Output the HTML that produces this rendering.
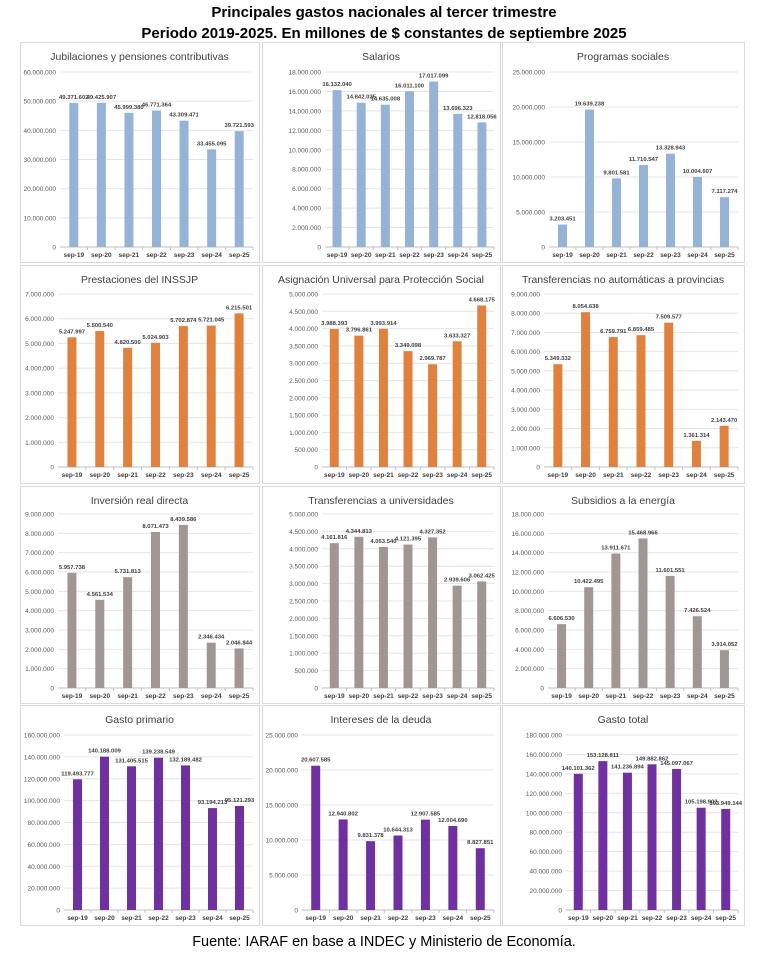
<!DOCTYPE html>
<html><head><meta charset="utf-8"><style>
body{margin:0;background:#fff;width:768px;height:953px;overflow:hidden;font-family:"Liberation Sans",sans-serif}
svg{position:absolute;left:0;top:0}
</style></head><body>
<svg id="s" width="768" height="953" xmlns="http://www.w3.org/2000/svg">
<text x="384" y="17" text-anchor="middle" font-size="15" font-weight="bold" font-family="Liberation Sans">Principales gastos nacionales al tercer trimestre</text>
<text x="384" y="38" text-anchor="middle" font-size="15" font-weight="bold" font-family="Liberation Sans">Periodo 2019-2025. En millones de $ constantes de septiembre 2025</text>
<text x="384" y="946" text-anchor="middle" font-size="14.5" font-family="Liberation Sans">Fuente: IARAF en base a INDEC y Ministerio de Economía.</text>
</svg>
<script>
const P=[
["Jubilaciones y pensiones contributivas",20,42,239,220,60,72,247,60e6,10e6,"#95b3d7",[49371602,49425907,45999380,46771364,43309471,33455095,39721593]],
["Salarios",262,42,238,220,325,72,247,18e6,2e6,"#95b3d7",[16132040,14842025,14635008,16011100,17017099,13696323,12818056]],
["Programas sociales",502,42,242,220,549,72,247,25e6,5e6,"#95b3d7",[3203451,19639238,9801581,11710547,13328943,10004607,7117274]],
["Prestaciones del INSSJP",20,265,239,218,58,294,467,7e6,1e6,"#e0813e",[5247997,5500540,4820500,5024903,5702874,5721045,6215501]],
["Asignación Universal para Protección Social",262,265,238,218,322,294,467,5e6,5e5,"#e0813e",[3988393,3796861,3993914,3349098,2969787,3633327,4668175]],
["Transferencias no automáticas a provincias",502,265,242,218,544,294,467,9e6,1e6,"#e0813e",[5349332,8054638,6759791,6859485,7509577,1361314,2143470]],
["Inversión real directa",20,486,239,217,58,514,688,9e6,1e6,"#a09694",[5957738,4561534,5731813,8071473,8439586,2346434,2046844]],
["Transferencias a universidades",262,486,238,217,322,514,688,5e6,5e5,"#a09694",[4161816,4344813,4053540,4121395,4327352,2939606,3062425]],
["Subsidios a la energía",502,486,242,217,548,514,688,18e6,2e6,"#a09694",[6606530,10422495,13911671,15468966,11601551,7426524,3914052]],
["Gasto primario",20,705,239,220,64,735,910,160e6,20e6,"#7030a0",[119493777,140188009,131405515,139238549,132189482,93194213,95121293]],
["Intereses de la deuda",262,705,238,220,302,735,910,25e6,5e6,"#7030a0",[20607585,12940802,9831378,10644313,12907585,12004690,8827851]],
["Gasto total",502,705,242,220,566,735,910,180e6,20e6,"#7030a0",[140101362,153128811,141236894,149882862,145097067,105198902,103949144]]];
const L=["sep-19","sep-20","sep-21","sep-22","sep-23","sep-24","sep-25"];
const f=n=>n.toLocaleString('de-DE');
let h='';
for(const [t,x,y,w,hh,pl,top,zero,mx,st,c,d] of P){
 const pr=x+w-6;
 h+=`<rect x="${x+.5}" y="${y+.5}" width="${w}" height="${hh}" fill="#fff" stroke="#d9d9d9"/>`;
 h+=`<text x="${x+w/2}" y="${y+18}" text-anchor="middle" font-size="10.5" fill="#404040">${t}</text>`;
 for(let v=0;v<=mx+1;v+=st){const yy=zero-(zero-top)*v/mx;
  h+=`<line x1="${pl}" x2="${pr}" y1="${yy}" y2="${yy}" stroke="${v?'#e4e4e4':'#bfbfbf'}"/>`;
  h+=`<text x="${pl-4}" y="${yy+2.5}" text-anchor="end" font-size="6.5" fill="#595959">${v?f(v):0}</text>`;}
 const cw=(pr-pl)/7;
 d.forEach((v,i)=>{const cx=pl+cw*(i+.5),yy=zero-(zero-top)*v/mx;
  h+=`<rect x="${cx-4.5}" y="${yy}" width="9" height="${zero-yy}" fill="${c}"/>`;
  h+=`<text x="${cx}" y="${yy-4}" text-anchor="middle" font-size="5.9" font-weight="bold" fill="#404040">${f(v)}</text>`;
  h+=`<text x="${cx}" y="${zero+10}" text-anchor="middle" font-size="6.5" font-weight="bold" fill="#404040">${L[i]}</text>`;
  h+=`<line x1="${pl+cw*(i+1)}" x2="${pl+cw*(i+1)}" y1="${zero}" y2="${zero+3}" stroke="#bfbfbf"/>`;});
}
document.getElementById('s').insertAdjacentHTML('afterbegin',h);
</script>
</body></html>
